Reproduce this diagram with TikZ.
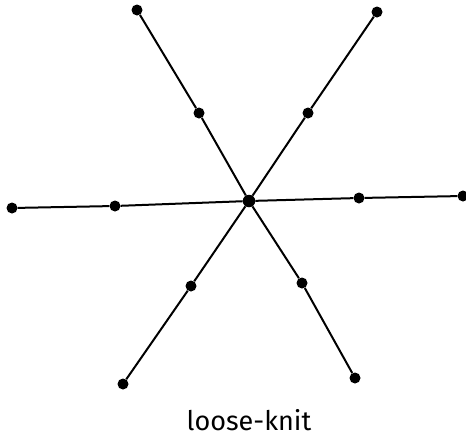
\documentclass[tikz,border=0pt]{standalone}
\usepackage{fontspec}
\setsansfont{Fira Sans}
\usetikzlibrary{positioning}

\begin{document}
\begin{tikzpicture}[
  x=1pt, y=-1pt,
  punto/.style={circle, fill=black, inner sep=0pt, minimum size=11pt},
  centro/.style={circle, fill=black, inner sep=0pt, minimum size=12.5pt},
  rayo/.style={draw=black, line width=2pt},
  rotulo/.style={font=\sffamily\fontsize{27}{30}\selectfont}
]
\useasboundingbox (0,0) rectangle (466,440);

\node[centro] (c) at (249,201) {};

% extremos de los tres segmentos
\node[punto] (e1) at (137,10) {};
\node[punto] (e2) at (377,12) {};
\node[punto] (e3) at (12,208) {};
\node[punto] (e4) at (463,196) {};
\node[punto] (e5) at (123,384) {};
\node[punto] (e6) at (355,378) {};

% puntos intermedios
\node[punto] (m1) at (199,113) {};
\node[punto] (m2) at (308,113) {};
\node[punto] (m3) at (115,206) {};
\node[punto] (m4) at (359,198) {};
\node[punto] (m5) at (191,286) {};
\node[punto] (m6) at (302,283) {};

\draw[rayo] (e1) -- (m1) -- (c) -- (m6) -- (e6);
\draw[rayo] (e2) -- (m2) -- (c) -- (m5) -- (e5);
\draw[rayo] (e3) -- (m3) -- (c) -- (m4) -- (e4);

\node[rotulo] (t) at (249,420) {loose-knit};

\end{tikzpicture}
\end{document}
